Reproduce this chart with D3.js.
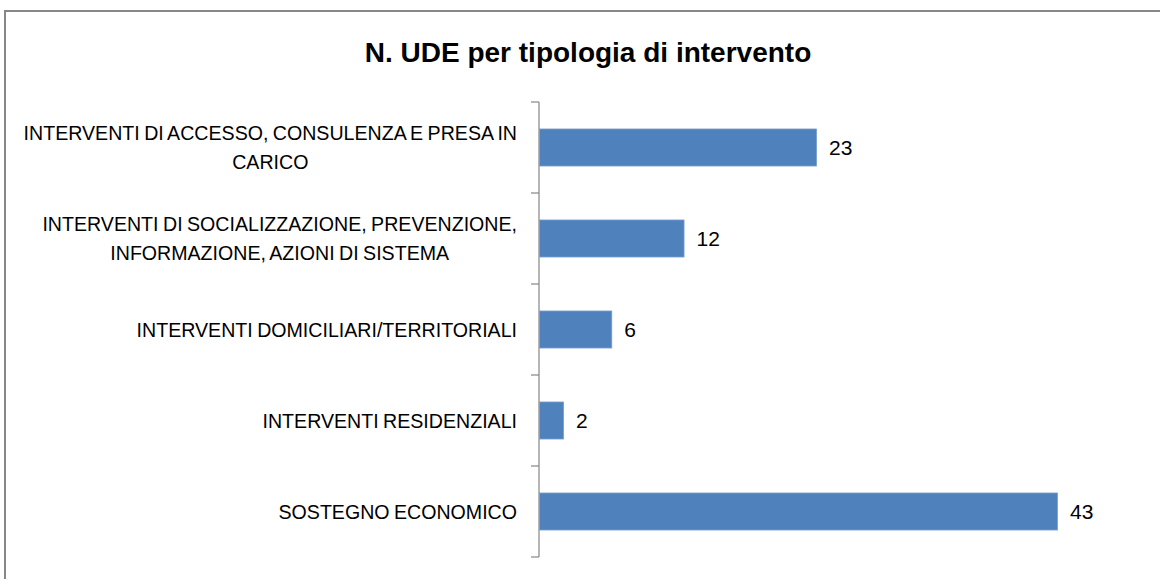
<!DOCTYPE html>
<html>
<head>
<meta charset="utf-8">
<script src="https://cdn.jsdelivr.net/npm/d3@7"></script>
<style>
  html, body { margin: 0; padding: 0; background: #fff; }
  svg { display: block; }
</style>
</head>
<body>
<svg id="chart" width="1160" height="579"></svg>
<script>
// Categories (each entry holds the label lines) and counts
const categories = [
  ["INTERVENTI DI ACCESSO, CONSULENZA E PRESA IN", "CARICO"],
  ["INTERVENTI DI SOCIALIZZAZIONE, PREVENZIONE,", "INFORMAZIONE, AZIONI DI SISTEMA"],
  ["INTERVENTI DOMICILIARI/TERRITORIALI"],
  ["INTERVENTI RESIDENZIALI"],
  ["SOSTEGNO ECONOMICO"]
];
const values = [23, 12, 6, 2, 43];
const title = "N. UDE per tipologia di intervento";

const svg = d3.select("#chart");
const font = "'Liberation Sans', Arial, sans-serif";

// Outer chart frame
svg.append("rect")
  .attr("x", 5).attr("y", 11)
  .attr("width", 1200).attr("height", 620)
  .attr("fill", "#fff")
  .attr("stroke", "#878787").attr("stroke-width", 2);

// Title
svg.append("text")
  .attr("x", 588).attr("y", 62)
  .attr("text-anchor", "middle")
  .attr("font-family", font)
  .attr("font-weight", "bold")
  .attr("font-size", 28)
  .attr("fill", "#000")
  .text(title);

const ids = categories.map((d, i) => i);
const axisX = 539;
const plotTop = 102, plotBottom = 557;
const pInner = 0.593, pOuter = 0.2965;

const y = d3.scaleBand().domain(ids).range([plotTop, plotBottom])
  .paddingInner(pInner).paddingOuter(pOuter);
const x = d3.scaleLinear().domain([0, 43]).range([axisX, 1057]);

// Category boundaries for the tick marks
const step = y.step();
const bounds = ids.map(i => y(i) - step * pInner / 2).concat([plotBottom]);

// Vertical category axis with outward tick marks at boundaries
const axisG = svg.append("g");
axisG.append("line")
  .attr("x1", axisX).attr("x2", axisX)
  .attr("y1", plotTop).attr("y2", plotBottom)
  .attr("stroke", "#868686").attr("stroke-width", 1.2);
axisG.selectAll("line.tick").data(bounds).join("line")
  .attr("class", "tick")
  .attr("x1", axisX - 8).attr("x2", axisX)
  .attr("y1", d => d).attr("y2", d => d)
  .attr("stroke", "#868686").attr("stroke-width", 1.2);

// Bars
svg.selectAll("rect.bar").data(ids).join("rect")
  .attr("class", "bar")
  .attr("x", x(0) + 0.5)
  .attr("y", i => y(i))
  .attr("width", i => x(values[i]) - x(0))
  .attr("height", y.bandwidth())
  .attr("fill", "#4F81BD")
  .attr("stroke", "#7A9FCF").attr("stroke-width", 0.8);

// Value labels
svg.selectAll("text.val").data(ids).join("text")
  .attr("class", "val")
  .attr("x", i => x(values[i]) + 13)
  .attr("y", i => y(i) + y.bandwidth() / 2)
  .attr("dy", "0.36em")
  .attr("font-family", font)
  .attr("font-size", 21)
  .attr("fill", "#000")
  .text(i => values[i]);

// Category labels: block right-aligned, lines centered within the block
const labelRight = 517;
const lineH = 29;
ids.forEach(i => {
  const lines = categories[i];
  const cy = y(i) + y.bandwidth() / 2;
  const g = svg.append("g");
  const texts = g.selectAll("text").data(lines).join("text")
    .attr("font-family", font)
    .attr("font-size", 19.6)
    .attr("word-spacing", -1)
    .attr("fill", "#000")
    .attr("text-anchor", "middle")
    .attr("y", (d, k) => cy + (k - (lines.length - 1) / 2) * lineH)
    .attr("dy", "0.36em")
    .text(d => d);
  const maxW = d3.max(texts.nodes(), n => n.getComputedTextLength());
  texts.attr("x", labelRight - maxW / 2);
});
</script>
</body>
</html>
